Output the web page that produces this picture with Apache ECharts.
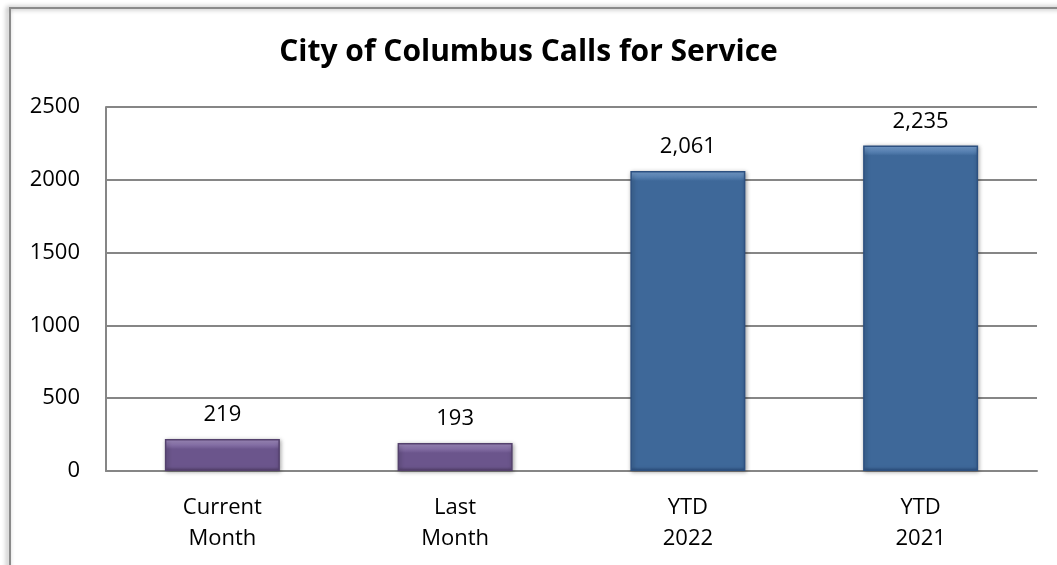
<!DOCTYPE html>
<html>
<head>
<meta charset="utf-8">
<script src="https://cdn.jsdelivr.net/npm/echarts@6/dist/echarts.min.js"></script>
<style>
html,body{margin:0;padding:0;background:#fff;}
#c{width:1057px;height:565px;}
</style>
</head>
<body>
<div id="c"></div>
<script>
var titleText = 'City of Columbus Calls for Service';
var categories = ['Current\nMonth', 'Last\nMonth', 'YTD\n2022', 'YTD\n2021'];
var values = [219, 193, 2061, 2235];
var yTicks = [0, 500, 1000, 1500, 2000, 2500];
var barKinds = ['month', 'month', 'ytd', 'ytd'];

var palette = {
  month: {top: '#ab96cb', body: '#6b558c', side: '#54416d'},
  ytd:   {top: '#80aadb', body: '#3e6899', side: '#2d5080'}
};
var plotH = 364, yMax = 2500;

var fontFam = '"Open Sans", "Noto Sans", sans-serif';
var chart = echarts.init(document.getElementById('c'));

var data = values.map(function (v, i) {
  var p = palette[barKinds[i]];
  var hpx = v * plotH / yMax;
  var b = Math.min(0.45, 10 / hpx);
  return {
    value: v,
    itemStyle: {
      color: new echarts.graphic.LinearGradient(0, 0, 0, 1, [
        {offset: 0, color: p.top},
        {offset: b, color: p.body},
        {offset: 1 - Math.min(0.2, 4 / hpx), color: p.body},
        {offset: 1, color: p.side}
      ]),
      borderColor: p.side,
      borderWidth: 1.5,
      shadowColor: 'rgba(0,0,0,0.35)',
      shadowBlur: 4,
      shadowOffsetX: 1,
      shadowOffsetY: 1
    }
  };
});

chart.setOption({
  animation: false,
  backgroundColor: '#fff',
  graphic: [{
    type: 'rect',
    shape: {x: 10, y: 8, width: 1120, height: 620},
    style: {fill: 'none', stroke: '#8a8a8a', lineWidth: 2,
            shadowColor: 'rgba(0,0,0,0.45)', shadowBlur: 5, shadowOffsetX: -2, shadowOffsetY: 0},
    z: 100
  }],
  title: {
    text: titleText,
    left: 'center',
    top: 32,
    textStyle: {fontFamily: fontFam, fontWeight: 'bold', fontSize: 30, color: '#000'}
  },
  grid: {left: 106, right: 20, top: 107, bottom: 94},
  xAxis: {
    type: 'category',
    data: categories,
    axisLine: {lineStyle: {color: '#868686', width: 2}},
    axisTick: {show: false},
    axisLabel: {
      fontFamily: fontFam, fontSize: 22, color: '#000',
      lineHeight: 31, margin: 21, interval: 0
    }
  },
  yAxis: {
    type: 'value',
    min: yTicks[0],
    max: yTicks[yTicks.length - 1],
    interval: yTicks[1] - yTicks[0],
    axisLine: {show: true, lineStyle: {color: '#868686', width: 2}},
    axisTick: {show: false},
    splitLine: {lineStyle: {color: '#868686', width: 2}},
    axisLabel: {fontFamily: fontFam, fontSize: 22, color: '#000', margin: 26,
                formatter: function (v) { return String(v); }}
  },
  series: [{
    type: 'bar',
    data: data,
    barWidth: 115,
    label: {
      show: true,
      position: 'top',
      distance: 13,
      fontFamily: fontFam,
      fontSize: 22,
      color: '#000',
      formatter: function (p) { return p.value.toLocaleString('en-US'); }
    }
  }]
});
</script>
</body>
</html>
